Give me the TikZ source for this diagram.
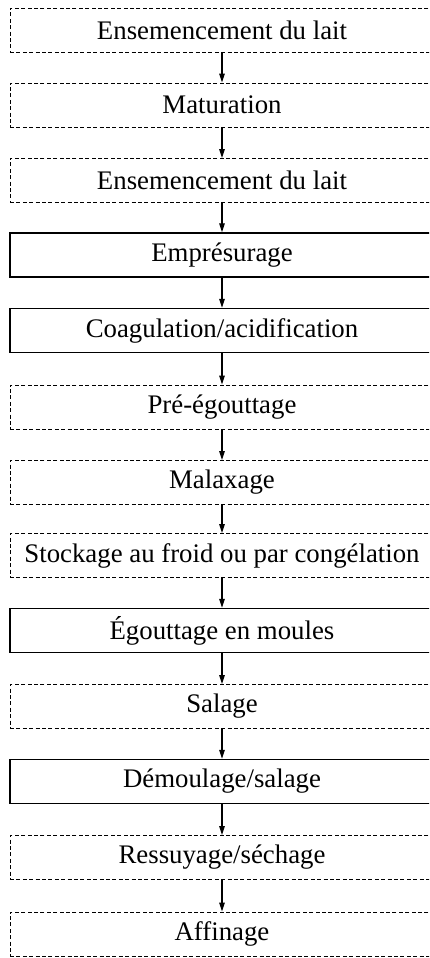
\documentclass[tikz,border=0pt]{standalone}
\usepackage{fontspec}
\setmainfont{Liberation Serif}
\usetikzlibrary{arrows.meta}
\begin{document}
\begin{tikzpicture}[x=1pt,y=1pt,
  stage/.style={rectangle, minimum width=424pt, minimum height=44pt,
    inner sep=0pt, font=\fontsize{26.8}{30}\selectfont, anchor=center},
  dashedstage/.style={stage, draw, line width=1pt, dash pattern=on 4pt off 2.4pt},
  solidstage/.style={stage, draw, line width=1.3pt},
  flow/.style={line width=1.2pt, -{Triangle[length=9pt,width=5.5pt]}}]
\useasboundingbox (0,0) rectangle (429,-958);
\clip (0,0) rectangle (429,-958);
\node[dashedstage] (s1)  at (222,-30.5) {Ensemencement du lait};
\node[dashedstage] (s2)  at (222,-105) {Maturation};
\node[dashedstage] (s3)  at (222,-180.5) {Ensemencement du lait};
\node[solidstage]  (s4)  at (222,-255) {Emprésurage};
\node[solidstage]  (s5)  at (222,-330.5) {Coagulation/acidification};
\node[dashedstage] (s6)  at (222,-407) {Pré-égouttage};
\node[dashedstage] (s7)  at (222,-482.5) {Malaxage};
\node[dashedstage] (s8)  at (222,-555.5) {Stockage au froid ou par congélation};
\node[solidstage]  (s9)  at (222,-630.5) {Égouttage en moules};
\node[dashedstage] (s10) at (222,-706.5) {Salage};
\node[solidstage]  (s11) at (222,-781.5) {Démoulage/salage};
\node[dashedstage] (s12) at (222,-857.5) {Ressuyage/séchage};
\node[dashedstage] (s13) at (222,-934) {Affinage};
\foreach \a/\b in {s1/s2,s2/s3,s3/s4,s4/s5,s5/s6,s6/s7,s7/s8,s8/s9,s9/s10,s10/s11,s11/s12,s12/s13}
  \draw[flow] (\a.south) -- (\b.north);
\end{tikzpicture}
\end{document}
